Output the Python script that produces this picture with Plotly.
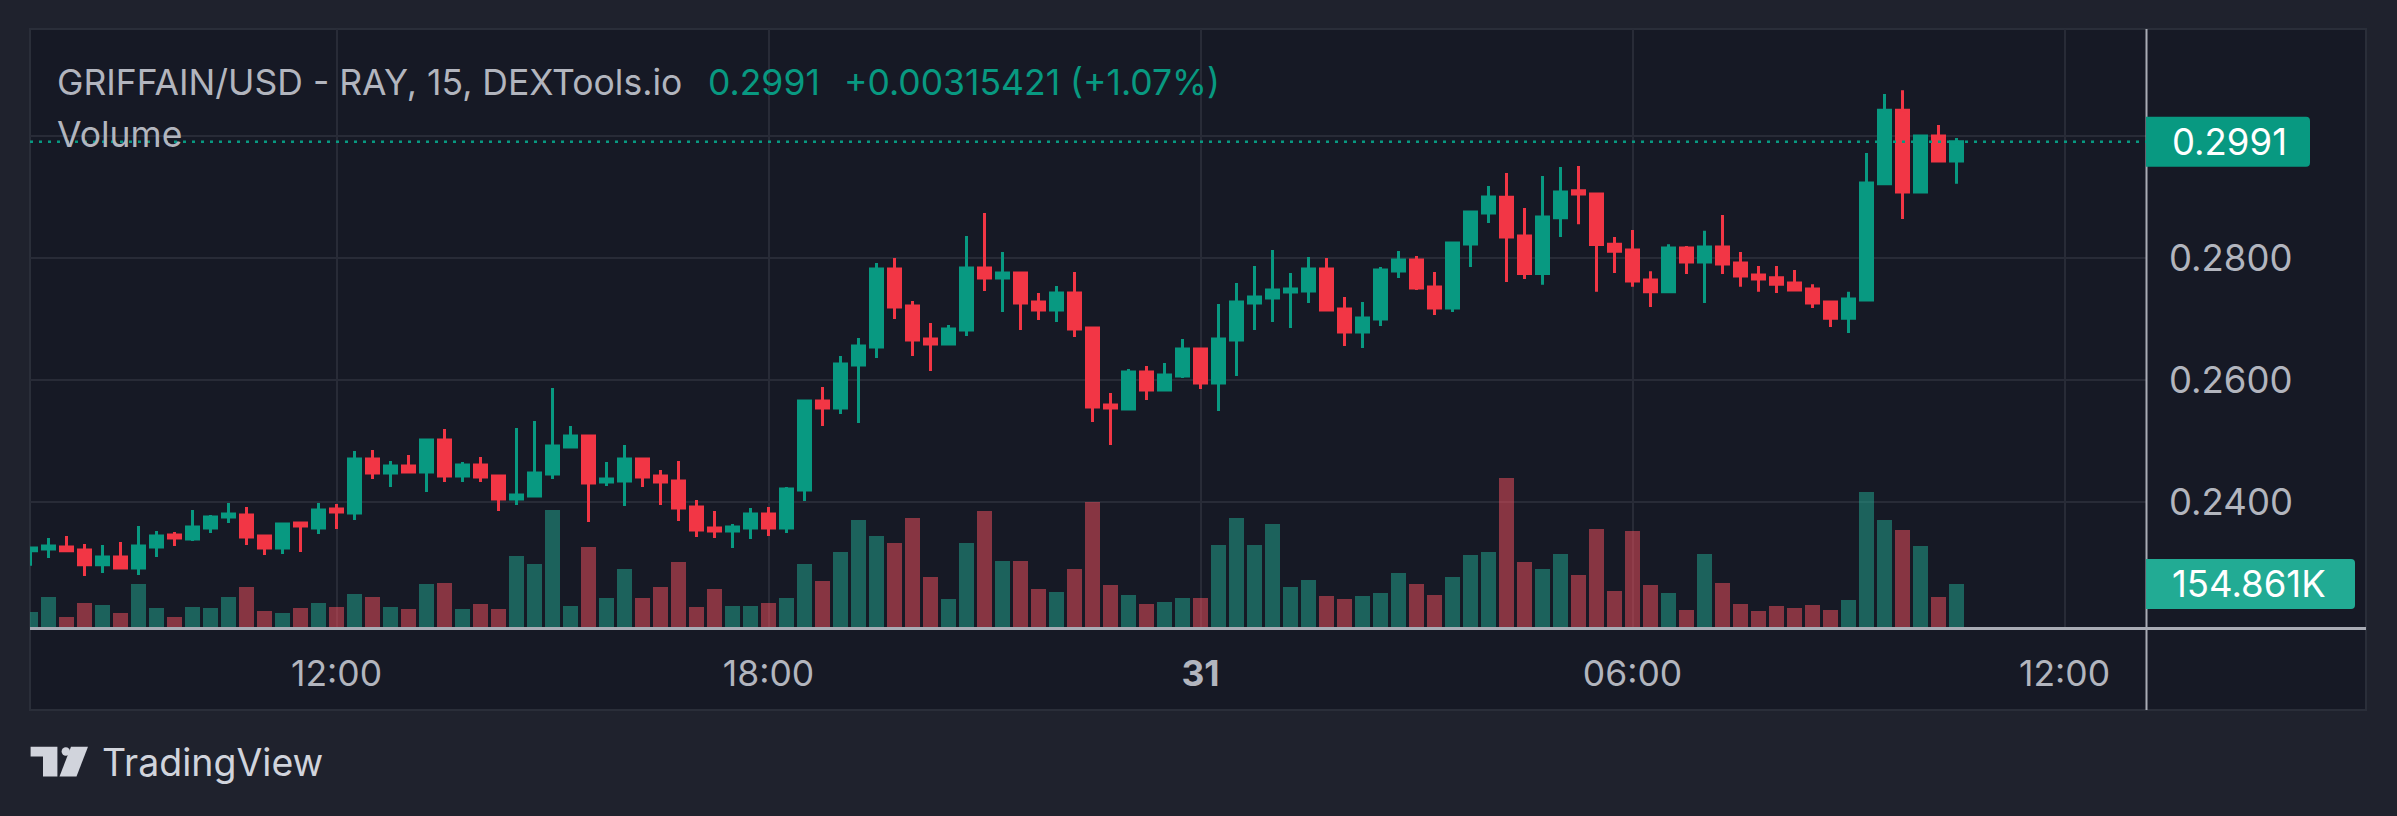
import plotly.graph_objects as go
import pandas as pd

# ---------------- data (15-minute candles, GRIFFAIN/USD) ----------------
times = pd.date_range("2024-12-30 07:45", periods=108, freq="15min")

opens = [0.23205, 0.23233, 0.23266, 0.23217, 0.22976, 0.23102, 0.22921, 0.23266, 0.23462, 0.23397,
         0.23577, 0.23757, 0.23790, 0.23446, 0.23249, 0.23659, 0.23577, 0.23889, 0.23823, 0.24708,
         0.24479, 0.24594, 0.24495, 0.25020, 0.24430, 0.24610, 0.24430, 0.24053, 0.24102, 0.24462,
         0.24905, 0.25085, 0.24331, 0.24348, 0.24708, 0.24430, 0.24348, 0.23921, 0.23577, 0.23528,
         0.23577, 0.23807, 0.23577, 0.24200, 0.25659, 0.25544, 0.26249, 0.26544, 0.27823, 0.27216,
         0.26675, 0.26593, 0.26823, 0.27839, 0.27675, 0.27757, 0.27282, 0.27151, 0.27430, 0.26856,
         0.25593, 0.25528, 0.26134, 0.25839, 0.26069, 0.26511, 0.25954, 0.26659, 0.27266, 0.27348,
         0.27446, 0.27462, 0.27823, 0.27167, 0.26790, 0.27003, 0.27790, 0.27970, 0.27528, 0.27184,
         0.28233, 0.28741, 0.29000, 0.28362, 0.27748, 0.28662, 0.29105, 0.29052, 0.28230, 0.28133,
         0.27644, 0.27448, 0.28167, 0.27938, 0.28184, 0.27920, 0.27725, 0.27679, 0.27592, 0.27495,
         0.27282, 0.27016, 0.27316, 0.29220, 0.30426, 0.29087, 0.30002, 0.29594579]
highs = [0.23249, 0.23413, 0.23446, 0.23315, 0.23298, 0.23348, 0.23610, 0.23528, 0.23512, 0.23872,
         0.23790, 0.23987, 0.23921, 0.23462, 0.23643, 0.23659, 0.23987, 0.23971, 0.24839, 0.24856,
         0.24675, 0.24774, 0.25020, 0.25200, 0.24659, 0.24741, 0.24446, 0.25216, 0.25331, 0.25872,
         0.25249, 0.25085, 0.24659, 0.24938, 0.24708, 0.24528, 0.24675, 0.24036, 0.23856, 0.23643,
         0.23905, 0.23921, 0.24249, 0.25659, 0.25889, 0.26397, 0.26692, 0.27921, 0.28003, 0.27298,
         0.26938, 0.26905, 0.28364, 0.28741, 0.28102, 0.27757, 0.27430, 0.27544, 0.27774, 0.26856,
         0.25790, 0.26184, 0.26233, 0.26282, 0.26675, 0.26511, 0.27249, 0.27593, 0.27872, 0.28134,
         0.27757, 0.28020, 0.28003, 0.27364, 0.27282, 0.27856, 0.28118, 0.28036, 0.27774, 0.28266,
         0.28757, 0.29184, 0.29398, 0.28823, 0.29346, 0.29495, 0.29513, 0.29052, 0.28346, 0.28461,
         0.27787, 0.28230, 0.28202, 0.28449, 0.28708, 0.28103, 0.27874, 0.27874, 0.27805, 0.27575,
         0.27282, 0.27448, 0.29725, 0.30692, 0.30754, 0.30020, 0.30185, 0.29972]
lows = [0.22959, 0.23085, 0.23205, 0.22790, 0.22839, 0.22921, 0.22807, 0.23102, 0.23282, 0.23364,
        0.23495, 0.23659, 0.23298, 0.23134, 0.23151, 0.23184, 0.23479, 0.23561, 0.23708, 0.24380,
        0.24249, 0.24495, 0.24167, 0.24331, 0.24331, 0.24331, 0.23856, 0.23954, 0.24102, 0.24380,
        0.24889, 0.23676, 0.24266, 0.23938, 0.24249, 0.23954, 0.23692, 0.23430, 0.23413, 0.23249,
        0.23397, 0.23446, 0.23495, 0.24020, 0.25249, 0.25446, 0.25298, 0.26364, 0.27003, 0.26397,
        0.26151, 0.26577, 0.26725, 0.27462, 0.27118, 0.26823, 0.26987, 0.26954, 0.26708, 0.25315,
        0.24938, 0.25512, 0.25676, 0.25839, 0.26036, 0.25856, 0.25495, 0.26069, 0.26823, 0.26954,
        0.26856, 0.27266, 0.27151, 0.26561, 0.26528, 0.26889, 0.27675, 0.27479, 0.27069, 0.27118,
        0.27856, 0.28577, 0.27610, 0.27661, 0.27564, 0.28346, 0.28557, 0.27448, 0.27759, 0.27530,
        0.27202, 0.27448, 0.27741, 0.27264, 0.27741, 0.27530, 0.27448, 0.27431, 0.27459, 0.27184,
        0.26874, 0.26775, 0.27316, 0.29220, 0.28644, 0.29087, 0.29594579, 0.29220]
closes = [0.23249, 0.23282, 0.23205, 0.22976, 0.23102, 0.22921, 0.23282, 0.23446, 0.23413, 0.23594,
          0.23757, 0.23807, 0.23430, 0.23249, 0.23643, 0.23610, 0.23872, 0.23839, 0.24708, 0.24479,
          0.24594, 0.24495, 0.25020, 0.24430, 0.24610, 0.24413, 0.24053, 0.24118, 0.24479, 0.24921,
          0.25085, 0.24315, 0.24380, 0.24708, 0.24413, 0.24331, 0.23905, 0.23544, 0.23528, 0.23594,
          0.23807, 0.23577, 0.24216, 0.25659, 0.25544, 0.26266, 0.26561, 0.27823, 0.27200, 0.26659,
          0.26593, 0.26839, 0.27839, 0.27675, 0.27757, 0.27266, 0.27151, 0.27430, 0.26839, 0.25561,
          0.25544, 0.26134, 0.25839, 0.26085, 0.26511, 0.25954, 0.26675, 0.27282, 0.27364, 0.27479,
          0.27495, 0.27823, 0.27151, 0.26790, 0.27020, 0.27807, 0.27970, 0.27511, 0.27184, 0.28249,
          0.28757, 0.29003, 0.28346, 0.27748, 0.28674, 0.29087, 0.29052, 0.28225, 0.28115, 0.27626,
          0.27448, 0.28167, 0.27938, 0.28184, 0.27903, 0.27707, 0.27661, 0.27575, 0.27477, 0.27264,
          0.27016, 0.27333, 0.29231, 0.30426, 0.29087, 0.30002, 0.29594579, 0.2991]
volumes = [56300, 109100, 38700, 88000, 81000, 52800, 154900, 70400, 38700, 73900,
           70400, 109100, 144300, 59800, 52800, 70400, 88000, 73900, 119700, 109100,
           73900, 66900, 154900, 158400, 66900, 84500, 66900, 253400, 225300, 415300,
           77400, 285100, 105600, 207700, 105600, 144300, 232300, 73900, 137300, 77400,
           77400, 88000, 105600, 225300, 165400, 267500, 380100, 323800, 299200, 387200,
           179500, 102100, 299200, 411800, 235800, 235800, 137300, 126700, 207700, 443500,
           151300, 116100, 84500, 91500, 105600, 105600, 292100, 387200, 292100, 366000,
           144300, 168900, 112600, 102100, 112600, 123200, 193600, 154900, 116100, 179500,
           256900, 267500, 527900, 232300, 207700, 260500, 186500, 348400, 130200, 341400,
           151300, 123200, 63400, 260500, 158400, 84500, 59800, 77400, 70400, 81000,
           63400, 98500, 478700, 380100, 344900, 288600, 109100, 154861]

tick_times = ["2024-12-30 12:00", "2024-12-30 18:00", "2024-12-31 00:00",
              "2024-12-31 06:00", "2024-12-31 12:00"]
tick_labels = ["12:00", "18:00", "<b>31</b>", "06:00", "12:00"]
price_ticks = [0.24, 0.26, 0.28, 0.30]
price_labels = ["0.2400", "0.2600", "0.2800", ""]

title_text = "GRIFFAIN/USD - RAY, 15, DEXTools.io"

# ---------------- style ----------------
W, H = 2397, 816
PL, PR, PT, PB = 30, 2146, 29, 628      # plot area in pixels
BG_OUTER = "#1F222D"
BG_INNER = "#161925"
BORDER = "#2A2E39"
GRID = "#282B37"
AXIS = "#A9ACB5"
TEXT = "#B2B5BE"
UP = "#089981"
DOWN = "#F23645"
VOL_UP = "rgba(34,171,148,0.5)"
VOL_DOWN = "rgba(247,82,95,0.5)"
FONT = "Inter"
LEGEND_SIZE = 35.5
SCALE_SIZE = 36.5


def px(x):
    return (x - PL) / (PR - PL)


def py(y):
    return (PB - y) / (PB - PT)


vol_colors = [VOL_UP if c >= o else VOL_DOWN for o, c in zip(opens, closes)]
last_close = closes[-1]
prev_close = closes[-2]
chg = last_close - prev_close
pct = chg / prev_close * 100
last_vol = volumes[-1]

fig = go.Figure()
fig.add_trace(go.Bar(
    x=times, y=volumes, yaxis="y", width=750000,
    marker=dict(color=vol_colors, line=dict(width=0)),
    hoverinfo="skip", showlegend=False,
))
fig.add_trace(go.Candlestick(
    x=times, open=opens, high=highs, low=lows, close=closes, yaxis="y2",
    increasing=dict(line=dict(color=UP, width=3), fillcolor=UP),
    decreasing=dict(line=dict(color=DOWN, width=3), fillcolor=DOWN),
    whiskerwidth=0, hoverinfo="skip", showlegend=False,
))

shapes = [
    # panel background
    dict(type="rect", xref="paper", yref="paper", x0=px(30), x1=px(2366),
         y0=py(710), y1=py(29), fillcolor=BG_INNER,
         line=dict(color=BORDER, width=2), layer="below"),
    # time-scale border
    dict(type="line", xref="paper", yref="paper", x0=px(30), x1=px(2366),
         y0=py(628.5), y1=py(628.5), line=dict(color=AXIS, width=3)),
    # price-scale border
    dict(type="line", xref="paper", yref="paper", x0=px(2146.5), x1=px(2146.5),
         y0=py(29), y1=py(710), line=dict(color=AXIS, width=2)),
    # last price dotted line
    dict(type="line", xref="paper", yref="y2", x0=0, x1=1,
         y0=last_close, y1=last_close,
         line=dict(color=UP, width=2.5, dash="3px,6px")),
    # last price tag
    dict(type="path", xref="paper", yref="y2", xsizemode="pixel", ysizemode="pixel",
         xanchor=1.0, yanchor=last_close,
         path="M0,-25 L160,-25 Q164,-25 164,-21 L164,21 Q164,25 160,25 L0,25 Z",
         fillcolor=UP, line=dict(width=0)),
    # last volume tag
    dict(type="path", xref="paper", yref="y", xsizemode="pixel", ysizemode="pixel",
         xanchor=1.0, yanchor=last_vol,
         path="M0,-25 L205,-25 Q209,-25 209,-21 L209,21 Q209,25 205,25 L0,25 Z",
         fillcolor="#22AB94", line=dict(width=0)),
]

# TradingView logo mark
LOGO = "#D1D4DC"
t_path = "M{},{} L{},{} L{},{} L{},{} L{},{} L{},{} Z".format(
    px(30.6), py(746.7), px(57.4), py(746.7), px(57.4), py(776.5),
    px(43), py(776.5), px(43), py(756.5), px(30.6), py(756.5))
s_path = "M{},{} L{},{} L{},{} L{},{} Z".format(
    px(71), py(746.7), px(88), py(746.7), px(76.5), py(776.5), px(59.5), py(776.5))
shapes += [
    dict(type="path", xref="paper", yref="paper", path=t_path, fillcolor=LOGO, line=dict(width=0)),
    dict(type="path", xref="paper", yref="paper", path=s_path, fillcolor=LOGO, line=dict(width=0)),
    dict(type="circle", xref="paper", yref="paper", x0=px(61.6), x1=px(70), y0=py(747.3), y1=py(755.7),
         fillcolor=LOGO, line=dict(width=0)),
]

ann = [
    dict(x=px(55), y=py(83), text=title_text, font=dict(size=LEGEND_SIZE, color=TEXT)),
    dict(x=px(706), y=py(83), text=f"{last_close:.4f}", font=dict(size=LEGEND_SIZE, color=UP)),
    dict(x=px(842), y=py(83), text=f"{chg:+.8f} ({pct:+.2f}%)", font=dict(size=LEGEND_SIZE, color=UP)),
    dict(x=px(55), y=py(134), text="Volume", font=dict(size=LEGEND_SIZE, color=TEXT)),
    dict(x=px(100), y=py(762), text="TradingView", font=dict(size=37.5, color=LOGO)),
]
for a in ann:
    a.update(xref="paper", yref="paper", xanchor="left", yanchor="middle", showarrow=False)
ann += [
    dict(x=px(2170), y=last_close, xref="paper", yref="y2", text=f"{last_close:.4f}",
         xanchor="left", yanchor="middle", showarrow=False,
         font=dict(size=SCALE_SIZE, color="#FFFFFF")),
    dict(x=px(2170), y=last_vol, xref="paper", yref="y", text=f"{last_vol/1000:.3f}K",
         xanchor="left", yanchor="middle", showarrow=False,
         font=dict(size=SCALE_SIZE, color="#FFFFFF")),
]

fig.update_layout(
    width=W, height=H,
    margin=dict(l=PL, r=W - PR, t=PT, b=H - PB, pad=0),
    paper_bgcolor=BG_OUTER, plot_bgcolor=BG_INNER,
    font=dict(family=FONT, color=TEXT, size=34),
    showlegend=False, hovermode=False,
    boxgap=1 / 3, boxgroupgap=0,
    xaxis=dict(
        type="date", range=["2024-12-30 07:44:35", "2024-12-31 13:07:55"],
        rangeslider=dict(visible=False),
        tickvals=tick_times, ticktext=tick_labels,
        showgrid=True, gridcolor=GRID, gridwidth=2,
        ticks="", showline=False, zeroline=False,
        tickfont=dict(size=35.5, color=TEXT, family=FONT),
        ticklabelstandoff=21,
    ),
    yaxis=dict(range=[0, 2108240], visible=False, showgrid=False, zeroline=False),
    yaxis2=dict(
        overlaying="y", side="right", range=[0.219377, 0.317574],
        tickvals=price_ticks, ticktext=price_labels,
        showgrid=True, gridcolor=GRID, gridwidth=2,
        ticks="", showline=False, zeroline=False,
        tickfont=dict(size=SCALE_SIZE, color=TEXT, family=FONT),
        ticklabelstandoff=22,
    ),
    shapes=shapes, annotations=ann,
)

fig.write_html("out.html", config={"displayModeBar": False})
